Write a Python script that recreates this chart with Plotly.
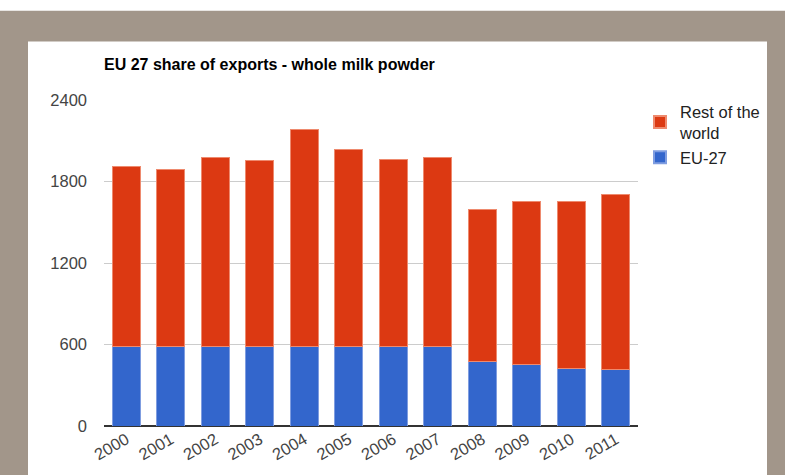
import plotly.graph_objects as go

years = ["2000", "2001", "2002", "2003", "2004", "2005", "2006", "2007", "2008", "2009", "2010", "2011"]
eu27 = [585, 585, 585, 585, 585, 585, 585, 585, 477, 453, 424, 414]
total = [1910, 1891, 1974, 1957, 2183, 2037, 1964, 1976, 1596, 1650, 1650, 1701]
rest_of_world = [t - e for t, e in zip(total, eu27)]
y_ticks = [0, 600, 1200, 1800, 2400]

W, H = 785, 475
L, R, T, B = 104, 147, 100, 46
ph = H - T - B
pw = W - L - R

def px_to_yp(py):
    return (H - B - py) / ph

def px_to_xp(px):
    return (px - L) / pw

fig = go.Figure()
fig.add_trace(go.Bar(x=years, y=eu27, name="EU-27",
                     marker=dict(color="#3366cc", line=dict(color="#7f9de0", width=1))))
fig.add_trace(go.Bar(x=years, y=rest_of_world, name="Rest of the<br>world",
                     marker=dict(color="#dc3912", line=dict(color="#ee8a6e", width=1))))

shapes = [
    dict(type="rect", xref="paper", yref="paper", layer="below",
         x0=px_to_xp(28), x1=px_to_xp(767), y0=px_to_yp(480), y1=px_to_yp(41),
         fillcolor="white", line=dict(width=0)),
    dict(type="rect", xref="paper", yref="paper", layer="below",
         x0=px_to_xp(-5), x1=px_to_xp(790), y0=px_to_yp(10), y1=px_to_yp(-5),
         fillcolor="white", line=dict(width=0)),
]

fig.update_layout(
    width=W, height=H,
    margin=dict(l=L, r=R, t=T, b=B),
    paper_bgcolor="#a2968a",
    plot_bgcolor="white",
    barmode="stack",
    bargap=0.37,
    shapes=shapes,
    font=dict(family="Liberation Sans, Arial, sans-serif", color="#444444"),
    title=dict(text="<b>EU 27 share of exports - whole milk powder</b>",
               x=0, xref="paper", xanchor="left",
               y=1 - 64 / H, yref="container", yanchor="middle",
               font=dict(size=16, color="#000000")),
    xaxis=dict(tickangle=-30, tickfont=dict(size=16.5, color="#444444"),
               showgrid=False, ticks="", showline=False),
    yaxis=dict(range=[0, 2400], tickvals=y_ticks, tickfont=dict(size=16.5, color="#444444"),
               showgrid=True, gridcolor="#cccccc", gridwidth=1,
               zeroline=True, zerolinecolor="#333333", zerolinewidth=1.5,
               ticks="", ticklabelstandoff=16),
    legend=dict(x=px_to_xp(640), y=px_to_yp(94), xanchor="left", yanchor="top",
                font=dict(size=16.5, color="#222222"), bgcolor="rgba(0,0,0,0)",
                traceorder="reversed", itemsizing="constant"),
)

fig.write_html("out.html", config={"displayModeBar": False},
               post_script="document.body.style.margin='0px';")
